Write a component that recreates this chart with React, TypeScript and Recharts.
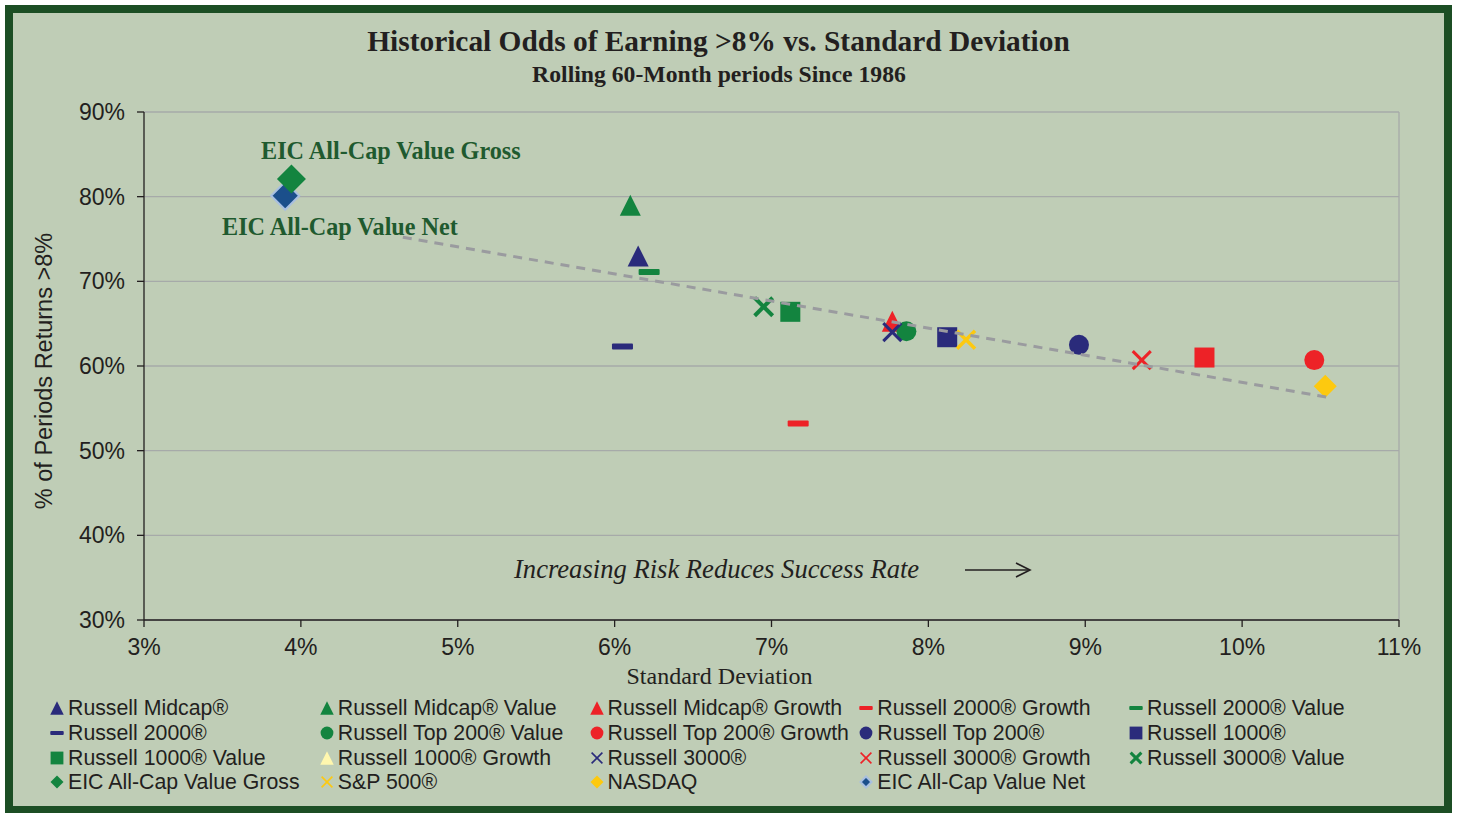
import React from 'react';
import { ScatterChart, Scatter, XAxis, YAxis, CartesianGrid, ReferenceLine, Legend } from 'recharts';

// ---------- data ----------
const seriesNames = [
  'Russell Midcap®', 'Russell Midcap® Value', 'Russell Midcap® Growth', 'Russell 2000® Growth', 'Russell 2000® Value',
  'Russell 2000®', 'Russell Top 200® Value', 'Russell Top 200® Growth', 'Russell Top 200®', 'Russell 1000®',
  'Russell 1000® Value', 'Russell 1000® Growth', 'Russell 3000®', 'Russell 3000® Growth', 'Russell 3000® Value',
  'EIC All-Cap Value Gross', 'S&P 500®', 'NASDAQ', 'EIC All-Cap Value Net',
];
const stdDevValues = [6.15, 6.10, 7.77, 7.17, 6.22, 6.05, 7.86, 10.46, 8.96, 8.12, 7.12, 9.76, 7.77, 9.36, 6.95, 3.94, 8.24, 10.53, 3.90];
const oddsValues = [73.0, 79.0, 65.3, 53.2, 71.1, 62.3, 64.1, 60.7, 62.5, 63.4, 66.4, 61.0, 64.0, 60.7, 67.0, 82.1, 63.1, 57.6, 80.1];
const trendStdDev = [4.65, 10.55];
const trendOdds = [75.2, 56.3];
const xTicks = [3, 4, 5, 6, 7, 8, 9, 10, 11];
const yTicks = [30, 40, 50, 60, 70, 80, 90];
const drawOrder = [0, 1, 2, 3, 4, 5, 6, 7, 8, 9, 10, 11, 12, 13, 14, 18, 16, 17, 15];

// ---------- styles ----------
const NAVY = '#2a2b7b';
const GREEN = '#13843f';
const RED = '#ed2227';
const YELLOW = '#fdc90f';
const BLUE = '#1b4f8b';
const TEXT = '#231f20';
const ANNO = '#1f5a2f';
const BG = '#bfcdb6';

type MStyle = { kind: string; color: string; w?: number; size?: number; stroke?: string };
const plotStyles: MStyle[] = [
  { kind: 'triangle', color: NAVY }, { kind: 'triangle', color: GREEN }, { kind: 'triangle', color: RED },
  { kind: 'dash', color: RED }, { kind: 'dash', color: GREEN },
  { kind: 'dash', color: NAVY }, { kind: 'circle', color: GREEN }, { kind: 'circle', color: RED },
  { kind: 'circle', color: NAVY }, { kind: 'square', color: NAVY },
  { kind: 'square', color: GREEN }, { kind: 'square', color: RED }, { kind: 'x', color: NAVY, w: 3 },
  { kind: 'x', color: RED, w: 3 }, { kind: 'x', color: GREEN, w: 4 },
  { kind: 'diamond', color: GREEN, size: 14.5 }, { kind: 'x', color: YELLOW, w: 3.5 },
  { kind: 'diamond', color: YELLOW, size: 11.5 }, { kind: 'diamond', color: BLUE, size: 14, stroke: '#a8bfe0' },
];
const legendStyles: MStyle[] = plotStyles.map((s, i) => {
  if (i === 11) return { kind: 'triangle', color: '#fff7ae' };
  if (s.kind === 'x') return { ...s, w: i === 14 ? 3 : 1.6 };
  if (i === 18) return { ...s, size: 5.5, stroke: '#a8bfe0' };
  return { ...s, size: 6.5 };
});

function marker(st: MStyle, cx: number, cy: number, scale: number, key?: string) {
  const h = 10.5 * scale;
  switch (st.kind) {
    case 'triangle':
      return <polygon key={key} points={`${cx},${cy - h} ${cx + h},${cy + h} ${cx - h},${cy + h}`} fill={st.color} />;
    case 'dash':
      return <rect key={key} x={cx - h} y={cy - 3 * scale} width={2 * h} height={6 * scale} rx={1} fill={st.color} />;
    case 'circle':
      return <circle key={key} cx={cx} cy={cy} r={10 * scale} fill={st.color} />;
    case 'square':
      return <rect key={key} x={cx - 10 * scale} y={cy - 10 * scale} width={20 * scale} height={20 * scale} fill={st.color} />;
    case 'x': {
      const d = 9 * scale;
      return (
        <g key={key} stroke={st.color} strokeWidth={st.w || 3}>
          <line x1={cx - d} y1={cy - d} x2={cx + d} y2={cy + d} />
          <line x1={cx - d} y1={cy + d} x2={cx + d} y2={cy - d} />
        </g>
      );
    }
    case 'diamond': {
      const s = st.size || 11;
      return (
        <polygon key={key} points={`${cx},${cy - s} ${cx + s},${cy} ${cx},${cy + s} ${cx - s},${cy}`}
          fill={st.color} stroke={st.stroke || 'none'} strokeWidth={st.stroke ? 2 : 0} />
      );
    }
    default:
      return <g key={key} />;
  }
}

function legendMarker(st: MStyle) {
  const c = 8;
  let el: React.ReactNode;
  if (st.kind === 'diamond') el = marker({ ...st, size: st.size }, c, c, 1);
  else if (st.kind === 'x') el = marker(st, c, c, 0.6);
  else el = marker(st, c, c, 0.64);
  return <svg width={16} height={16} style={{ flex: '0 0 16px' }}>{el}</svg>;
}

const LegendContent = () => (
  <div style={{ display: 'grid', gridTemplateColumns: 'repeat(5, 269.75px)', gridAutoRows: '24.67px' }}>
    {seriesNames.map((n, i) => (
      <div key={n} style={{ display: 'flex', alignItems: 'center', whiteSpace: 'nowrap' }}>
        {legendMarker(legendStyles[i])}
        <span style={{ marginLeft: 3, fontFamily: '"Liberation Sans", Arial, sans-serif', fontSize: 21.3, color: TEXT, lineHeight: '24px' }}>{n}</span>
      </div>
    ))}
  </div>
);

export default function App() {
  const trendData = trendStdDev.map((x, i) => ({ x, y: trendOdds[i] }));
  const sans = '"Liberation Sans", Arial, sans-serif';
  const serif = '"Liberation Serif", "Times New Roman", serif';
  return (
    <div style={{ position: 'relative', width: 1458, height: 813, background: '#ffffff', overflow: 'hidden' }}>
      <style>{'body{margin:0}'}</style>
      <div style={{ position: 'absolute', left: 5, top: 5, width: 1447, height: 809, boxSizing: 'border-box', border: '8px solid #1c4e24', background: BG }} />
      <div style={{ position: 'absolute', left: 0, top: 0 }}>
        <ScatterChart width={1458} height={813} margin={{ top: 112, right: 59, bottom: 153, left: 64 }}>
          <CartesianGrid vertical={false} stroke="#a6aaa9" strokeWidth={1.3} />
          <ReferenceLine x={11} stroke="#a6aaa9" strokeWidth={1.3} />
          <XAxis type="number" dataKey="x" domain={[3, 11]} ticks={xTicks} height={40}
            tickFormatter={(v: number) => `${v}%`} axisLine={{ stroke: TEXT, strokeWidth: 1.3 }}
            tickLine={{ stroke: TEXT, strokeWidth: 1.3 }} tickSize={7} tickMargin={12}
            tick={{ fill: TEXT, fontSize: 23, fontFamily: sans }} interval={0} allowDataOverflow />
          <YAxis type="number" dataKey="y" domain={[30, 90]} ticks={yTicks} width={80}
            tickFormatter={(v: number) => `${v}%`} axisLine={{ stroke: TEXT, strokeWidth: 1.3 }}
            tickLine={{ stroke: TEXT, strokeWidth: 1.3 }} tickSize={7} tickMargin={12}
            tick={{ fill: TEXT, fontSize: 23, fontFamily: sans }} interval={0} allowDataOverflow />
          {drawOrder.map((i) => (
            <Scatter key={seriesNames[i]} name={seriesNames[i]} data={[{ x: stdDevValues[i], y: oddsValues[i] }]}
              isAnimationActive={false}
              shape={(p: any) => marker(plotStyles[i], p.cx, p.cy, 1)} />
          ))}
          <Scatter name="trend" data={trendData} isAnimationActive={false} legendType="none"
            line={{ stroke: '#9a9b9f', strokeWidth: 3, strokeDasharray: '9 7' }}
            shape={() => <g />} />
          <Legend layout="horizontal" verticalAlign="middle" align="center"
            wrapperStyle={{ left: 49, top: 696, width: 1380, height: 100 }} content={() => <LegendContent />} />
        </ScatterChart>
      </div>
      <svg width={1458} height={813} style={{ position: 'absolute', left: 0, top: 0, pointerEvents: 'none' }}>
        <text x={718.5} y={51} textAnchor="middle" fontFamily={serif} fontWeight="bold" fontSize={29.4} fill={TEXT}>
          Historical Odds of Earning &gt;8% vs. Standard Deviation
        </text>
        <text x={719} y={82} textAnchor="middle" fontFamily={serif} fontWeight="bold" fontSize={23.7} fill={TEXT}>
          Rolling 60-Month periods Since 1986
        </text>
        <text x={261} y={159} fontFamily={serif} fontWeight="bold" fontSize={24.2} fill={ANNO}>EIC All-Cap Value Gross</text>
        <text x={222} y={235} fontFamily={serif} fontWeight="bold" fontSize={24.2} fill={ANNO}>EIC All-Cap Value Net</text>
        <text x={514} y={578} fontFamily={serif} fontStyle="italic" fontSize={26.6} fill={TEXT}>Increasing Risk Reduces Success Rate</text>
        <g stroke={TEXT} strokeWidth={1.6} fill="none">
          <line x1={965} y1={570} x2={1029} y2={570} />
          <polyline points="1016,563 1030,570 1016,577" />
        </g>
        <text x={719.5} y={684} textAnchor="middle" fontFamily={serif} fontSize={24} fill={TEXT}>Standard Deviation</text>
        <text x={52} y={371} textAnchor="middle" transform="rotate(-90 52 371)" fontFamily={sans} fontSize={23.5} fill={TEXT}>
          % of Periods Returns &gt;8%
        </text>
      </svg>
    </div>
  );
}
